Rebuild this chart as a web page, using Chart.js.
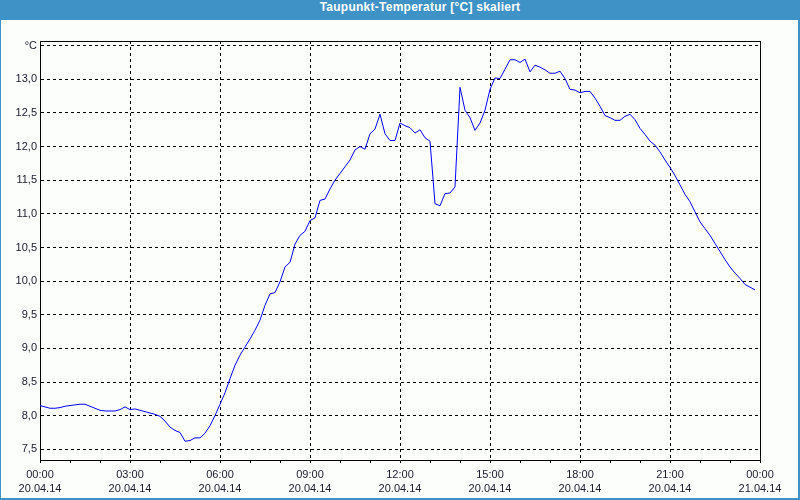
<!DOCTYPE html>
<html>
<head>
<meta charset="utf-8">
<script src="https://cdn.jsdelivr.net/npm/chart.js@4/dist/chart.umd.min.js"></script>
<style>
	body { margin: 0; background: #fff; }
	#win { position: relative; width: 800px; height: 500px; background: #3e92c5; overflow: hidden; }
	#title { position: absolute; top: 0; left: 20px; width: 800px; height: 20px; line-height: 20px;
		text-align: center; color: #fff; font: bold 12px "Liberation Sans", Arial, sans-serif; letter-spacing: 0.25px; }
	#chart { position: absolute; left: 1px; top: 20px; width: 797px; height: 478px; background: #fcfefc; }
</style>
</head>
<body>
<div id="win">
	<div id="title">Taupunkt-Temperatur [°C] skaliert</div>
	<canvas id="chart" width="797" height="478"></canvas>
</div>
<script>

// minutes since 20.04.14 00:00, one reading every 10 min
var minutes = [
	0, 10, 20, 30, 40, 50, 60, 70, 80, 90, 100, 110, 120, 130, 140, 150, 160, 170,
	180, 190, 200, 210, 220, 230, 240, 250, 260, 270, 280, 290, 300, 310, 320, 330, 340, 350,
	360, 370, 380, 390, 400, 410, 420, 430, 440, 450, 460, 470, 480, 490, 500, 510, 520, 530,
	540, 550, 560, 570, 580, 590, 600, 610, 620, 630, 640, 650, 660, 670, 680, 690, 700, 710,
	720, 730, 740, 750, 760, 770, 780, 790, 800, 810, 820, 830, 840, 850, 860, 870, 880, 890,
	900, 910, 920, 930, 940, 950, 960, 970, 980, 990, 1000, 1010, 1020, 1030, 1040, 1050, 1060, 1070,
	1080, 1090, 1100, 1110, 1120, 1130, 1140, 1150, 1160, 1170, 1180, 1190, 1200, 1210, 1220, 1230, 1240, 1250,
	1260, 1270, 1280, 1290, 1300, 1310, 1320, 1330, 1340, 1350, 1360, 1370, 1380, 1390, 1400, 1410, 1420, 1430
];

// Taupunkt in °C
var dewpoint = [
	8.15, 8.13, 8.11, 8.11, 8.12, 8.14, 8.15, 8.16, 8.17, 8.17, 8.14, 8.11, 8.08, 8.07, 8.07, 8.07, 8.09, 8.13,
	8.09, 8.10, 8.08, 8.06, 8.04, 8.02, 7.99, 7.92, 7.83, 7.78, 7.75, 7.62, 7.63, 7.67, 7.67, 7.74, 7.85, 8.00,
	8.17, 8.34, 8.55, 8.75, 8.90, 9.02, 9.14, 9.27, 9.42, 9.64, 9.81, 9.83, 9.99, 10.21, 10.28, 10.55, 10.68, 10.74,
	10.90, 10.94, 11.20, 11.22, 11.37, 11.50, 11.60, 11.70, 11.80, 11.95, 12.00, 11.96, 12.19, 12.26, 12.48, 12.19, 12.09, 12.09,
	12.35, 12.31, 12.28, 12.20, 12.25, 12.13, 12.08, 11.15, 11.12, 11.30, 11.31, 11.40, 12.88, 12.54, 12.43, 12.24, 12.35, 12.54,
	12.85, 13.02, 13.01, 13.15, 13.29, 13.29, 13.25, 13.30, 13.11, 13.21, 13.18, 13.14, 13.09, 13.09, 13.12, 13.01, 12.85, 12.84,
	12.80, 12.82, 12.82, 12.72, 12.60, 12.46, 12.43, 12.39, 12.39, 12.45, 12.48, 12.40, 12.27, 12.18, 12.08, 12.02, 11.92, 11.80,
	11.69, 11.57, 11.43, 11.29, 11.18, 11.03, 10.88, 10.78, 10.68, 10.56, 10.44, 10.32, 10.21, 10.12, 10.04, 9.95, 9.91, 9.87
];

// axis ticks
var yTickValues = [7.5, 8.0, 8.5, 9.0, 9.5, 10.0, 10.5, 11.0, 11.5, 12.0, 12.5, 13.0, 13.5];
var yTickLabels = ['7,5', '8,0', '8,5', '9,0', '9,5', '10,0', '10,5', '11,0', '11,5', '12,0', '12,5', '13,0', '°C'];

var xTickValues = [0, 60, 120, 180, 240, 300, 360, 420, 480, 540, 600, 660, 720, 780, 840, 900, 960, 1020,
	1080, 1140, 1200, 1260, 1320, 1380, 1440];
var xMajorValues = [0, 180, 360, 540, 720, 900, 1080, 1260, 1440];
var xTickLabels = [
	['00:00', '20.04.14'], ['03:00', '20.04.14'], ['06:00', '20.04.14'], ['09:00', '20.04.14'],
	['12:00', '20.04.14'], ['15:00', '20.04.14'], ['18:00', '20.04.14'], ['21:00', '20.04.14'],
	['00:00', '21.04.14']
];

var points = [];
for (var i = 0; i < minutes.length; i++)
	points.push({x: minutes[i], y: dewpoint[i]});

Chart.defaults.font.family = '"Liberation Sans", Arial, sans-serif';
Chart.defaults.font.size = 11;
Chart.defaults.color = '#1a1a2a';

// closes the plot frame on top and right
var framePlugin = {
	id: 'frame',
	afterDraw: function(chart) {
		var a = chart.chartArea;
		var ctx = chart.ctx;
		ctx.save();
		ctx.strokeStyle = '#000';
		ctx.lineWidth = 1;
		ctx.beginPath();
		ctx.moveTo(Math.round(a.left) + 0.5, Math.round(a.top) + 0.5);
		ctx.lineTo(Math.round(a.right) + 0.5, Math.round(a.top) + 0.5);
		ctx.lineTo(Math.round(a.right) + 0.5, Math.round(a.bottom) + 0.5);
		ctx.stroke();
		ctx.restore();
	}
};

var ctx = document.getElementById('chart').getContext('2d');
var chart = new Chart(ctx, {
	type: 'line',
	data: {
		datasets: [{
			data: points,
			borderColor: '#0000ff',
			borderWidth: 1,
			pointRadius: 0,
			tension: 0,
			fill: false
		}]
	},
	options: {
		responsive: false,
		animation: false,
		layout: { padding: { top: 21, right: 38, left: 0, bottom: 0 } },
		plugins: { legend: { display: false }, tooltip: { enabled: false } },
		scales: {
			x: {
				type: 'linear',
				min: 0,
				max: 1440,
				afterBuildTicks: function(scale) {
					scale.ticks = xTickValues.map(function(v) { return {value: v}; });
				},
				afterFit: function(scale) { scale.height = 38; },
				ticks: {
					autoSkip: false,
					maxRotation: 0,
					padding: 5,
					callback: function(value) {
						var k = xMajorValues.indexOf(value);
						return k < 0 ? '' : xTickLabels[k];
					},
					font: { lineHeight: 14 / 11 }
				},
				grid: {
					color: function(c) {
						return (c.tick && xMajorValues.indexOf(c.tick.value) >= 0) ? '#000' : 'rgba(0,0,0,0)';
					},
					tickColor: '#000',
					tickLength: 3,
					lineWidth: 1
				},
				border: { color: '#000', width: 1, dash: [3, 3] }
			},
			y: {
				min: 7.341,
				max: 13.569,
				afterBuildTicks: function(scale) {
					scale.ticks = yTickValues.map(function(v) { return {value: v}; });
				},
				afterFit: function(scale) { scale.width = 39; },
				ticks: {
					padding: 3,
					callback: function(value, index) { return yTickLabels[index]; }
				},
				grid: { color: '#000', lineWidth: 1, drawTicks: false },
				border: { color: '#000', width: 1, dash: [3, 3] }
			}
		}
	},
	plugins: [framePlugin]
});

</script>
</body>
</html>
